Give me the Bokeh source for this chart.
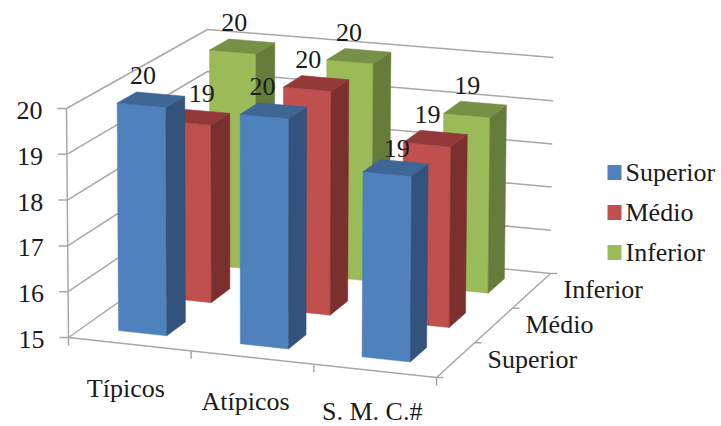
from bokeh.plotting import figure
from bokeh.embed import file_html
from bokeh.resources import INLINE
from bokeh.core.properties import value

# Chart data
categories = ["Típicos", "Atípicos", "S. M. C.#"]
series_names = ["Superior", "Médio", "Inferior"]
superior = [20, 20, 19]
medio = [19, 20, 19]
inferior = [20, 20, 19]
value_ticks = [15, 16, 17, 18, 19, 20]

series_values = [superior, medio, inferior]
front_colors = ["#4F81BD", "#C0504D", "#9BBB59"]
side_colors = ["#33537C", "#7C302E", "#667C3A"]
top_colors = ["#3E6697", "#93393A", "#769045"]

GRID = "#A8A8A8"
TEXT = "#1A1A1A"
SERIF = value("Liberation Serif")
FONT_SIZE = "26px"

# Corners of the plot box in page pixels, keyed by (category, depth, height)
CORNERS = {
    (0, 0, 0): (68, 337), (1, 0, 0): (436, 377),
    (0, 1, 0): (207, 239), (1, 1, 0): (550, 273),
    (0, 0, 1): (66, 108), (1, 0, 1): (438, 142),
    (0, 1, 1): (207, 29), (1, 1, 1): (553, 57),
}

# Extra shifts of individual value labels, keyed by (category, series)
LABEL_NUDGE = {(0, 1): (13, 0), (2, 0): (9, 5), (1, 0): (-3, 0), (1, 2): (-2, 0)}


def project(u, v, w):
    """Map box coordinates (each 0..1) to page pixels by trilinear blending."""
    x = y = 0.0
    for (a, b, c), (cx, cy) in CORNERS.items():
        k = (u if a else 1 - u) * (v if b else 1 - v) * (w if c else 1 - w)
        x += k * cx
        y += k * cy
    return x, y


def height(val):
    return (val - value_ticks[0]) / (value_ticks[-1] - value_ticks[0])


def outline(*points):
    xy = [project(*pt) for pt in points]
    return [q[0] for q in xy], [q[1] for q in xy]


p = figure(width=721, height=426, x_range=(0, 721), y_range=(426, 0),
           output_backend="svg", toolbar_location=None, min_border=0,
           x_axis_type=None, y_axis_type=None)
p.grid.visible = False
p.outline_line_color = None
p.background_fill_color = "white"
p.border_fill_color = "white"

# Walls, floor and value axis
line_xs, line_ys = [], []


def add_line(*points):
    xs, ys = outline(*points)
    line_xs.append(xs)
    line_ys.append(ys)


for tick in value_ticks:
    w = height(tick)
    add_line((0, 0, w), (0, 1, w), (1, 1, w))
    x0, y0 = project(0, 0, w)
    line_xs.append([x0 - 9, x0])
    line_ys.append([y0, y0])
add_line((0, 0, 0), (0, 0, 1))
add_line((0, 0, 0), (1, 0, 0), (1, 1, 0))

n_cat = len(categories)
n_ser = len(series_names)
for i in range(n_cat + 1):
    x0, y0 = project(i / n_cat, 0, 0)
    line_xs.append([x0, x0])
    line_ys.append([y0, y0 + 8])
for j in range(n_ser + 1):
    x0, y0 = project(1, j / n_ser, 0)
    line_xs.append([x0, x0 + 7])
    line_ys.append([y0, y0])

p.multi_line(line_xs, line_ys, line_color=GRID, line_width=1.5)

# Bars, painted from the back row to the front row
HALF_W = 0.066
HALF_D = 0.07
label_x, label_y, label_text = [], [], []
for j in reversed(range(n_ser)):
    for i in range(n_cat):
        val = series_values[j][i]
        w = height(val)
        uc, vc = (i + 0.5) / n_cat - 0.005, (j + 0.5) / n_ser + 0.012
        u0, u1 = uc - HALF_W, uc + HALF_W
        v0, v1 = vc - HALF_D, vc + HALF_D
        faces = [
            (outline((u0, v0, 0), (u1, v0, 0), (u1, v0, w), (u0, v0, w)), front_colors[j]),
            (outline((u1, v0, 0), (u1, v1, 0), (u1, v1, w), (u1, v0, w)), side_colors[j]),
            (outline((u0, v0, w), (u1, v0, w), (u1, v1, w), (u0, v1, w)), top_colors[j]),
        ]
        for (xs, ys), col in faces:
            p.patch(xs, ys, fill_color=col, line_color=col, line_width=0.5)
        cx, cy = project(uc, vc, w)
        dx, dy = LABEL_NUDGE.get((i, j), (0, 0))
        label_x.append(cx - 8 + dx)
        label_y.append(cy - 24 + dy)
        label_text.append(f"{val:d}")

# Value labels, drawn above every bar
p.text(label_x, label_y, text=label_text, text_font=SERIF, text_font_size=FONT_SIZE,
       text_color=TEXT, text_align="center", text_baseline="middle")

# Value axis labels
tick_pos = [project(0, 0, height(t)) for t in value_ticks]
p.text([q[0] - 24 for q in tick_pos], [q[1] + 2 for q in tick_pos],
       text=[str(t) for t in value_ticks], text_font=SERIF, text_font_size=FONT_SIZE,
       text_color=TEXT, text_align="right", text_baseline="middle")

# Category labels; the last one sits a little higher to stay inside the page
cat_pos = [project((i + 0.5) / n_cat, 0, 0) for i in range(n_cat)]
cat_drop = [44, 44, 41]
cat_shift = [-4, -7, -3]
p.text([q[0] + s for q, s in zip(cat_pos, cat_shift)],
       [q[1] + d for q, d in zip(cat_pos, cat_drop)],
       text=categories, text_font=SERIF, text_font_size=FONT_SIZE, text_color=TEXT,
       text_align="center", text_baseline="middle")

# Depth axis labels
ser_pos = [project(1, (j + 0.5) / n_ser, 0) for j in range(n_ser)]
p.text([q[0] + 32 for q in ser_pos], [q[1] - 1 for q in ser_pos], text=series_names,
       text_font=SERIF, text_font_size=FONT_SIZE, text_color=TEXT,
       text_align="left", text_baseline="middle")

# Legend
legend_y = [172 + 40 * j for j in range(n_ser)]
p.rect([614] * n_ser, legend_y, width=14, height=15, fill_color=front_colors,
       line_color=None)
p.text([625] * n_ser, legend_y, text=series_names, text_font=SERIF,
       text_font_size=FONT_SIZE, text_color=TEXT, text_align="left",
       text_baseline="middle")

open("out.html", "w").write(file_html(p, INLINE))
